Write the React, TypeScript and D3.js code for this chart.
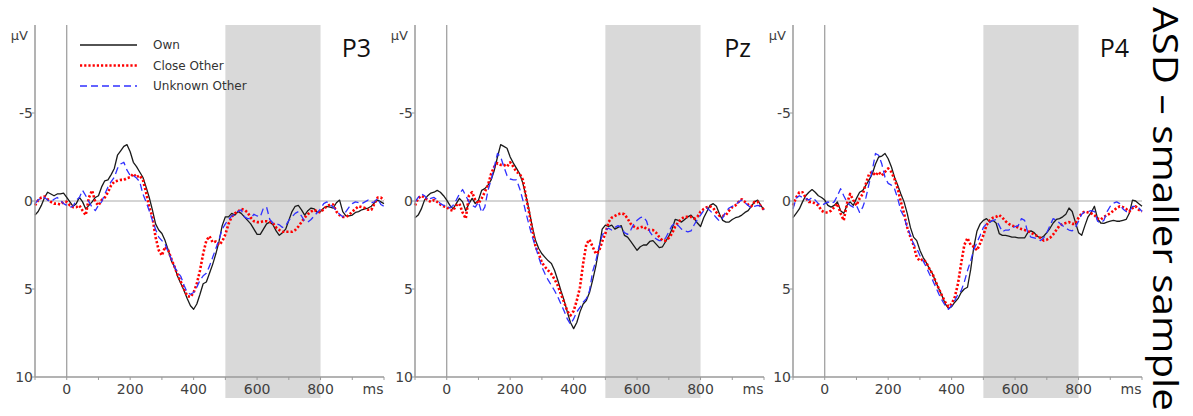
import * as d3 from "d3";

// sample grid, ms (one value every 10 ms from -100 to 1000)
const TIMES = d3.range(-100, 1001, 10);

const P3_OWN = [
  0.8, 0.6, 0.25, -0.2, -0.5, -0.4, -0.3, -0.4, -0.4, -0.45,
  -0.2, 0.05, 0.3, 0.15, -0.2, 0.05, 0.45, 0.25, 0.05, -0.2,
  -0.3, -0.8, -1.15, -1.2, -1.5, -1.85, -2.6, -2.85, -3.1, -3.2,
  -2.8, -2.2, -1.95, -1.65, -1.35, -0.8, -0.2, 0.5, 1.3, 1.65,
  1.85, 2.25, 2.8, 3.4, 3.75, 4.3, 4.7, 5.1, 5.55, 5.95,
  6.15, 5.85, 5.3, 4.7, 4.6,
  4.1, 3.6, 3.0, 2.3, 1.4, 0.9, 0.9, 0.7, 0.8, 0.6,
  0.7, 0.9, 1.1, 1.3, 1.6, 1.9, 1.9, 1.6, 1.3, 1.2,
  1.35, 1.7, 1.95, 1.8, 1.6, 1.1, 0.6, 0.3, 0.25, 0.5,
  0.8, 0.55, 0.4, 0.45, 0.65, 0.6, 0.4, 0.3, 0.35, 0.4,
  0.1, -0.05, 0.6, 0.85, 0.85, 0.8, 0.65, 0.6, 0.5, 0.45,
  0.4, 0.3, 0.1, -0.05, 0.05, 0.15,
];
const P3_CLOSE = [
  0.25, -0.05, -0.2, -0.25, -0.1, 0.05, 0.15, 0.15, 0.2, 0.05,
  0.05, 0.25, 0.35, 0.35, 0.25, 0.55, 0.8, -0.2, -0.6, 0.05,
  0.25, -0.05, -0.2, -0.5, -0.9, -1.1, -1.15, -1.2, -1.2, -1.3,
  -1.35, -1.55, -1.35, -1.45, -1.2, -0.5, 0.35, 0.9, 2.05, 2.8,
  3.1, 2.6, 2.8, 3.3, 3.75, 4.2, 4.6, 5.0, 5.4, 5.45,
  5.2, 4.7, 3.95, 3.0, 2.25, 2.0,
  2.35, 2.3, 2.5, 2.3, 1.9, 1.3, 0.9, 0.7, 0.6, 0.45,
  0.5, 0.65, 0.95, 1.15, 1.2, 1.2, 1.15, 1.15, 1.2, 1.25,
  1.5, 1.65, 1.75, 1.75, 1.75, 1.75, 1.65, 1.45, 1.2, 0.95,
  0.75, 0.6, 0.5, 0.6, 0.65, 0.45, 0.3, 0.2, 0.2, 0.6,
  0.8, 0.9, 0.9, 0.8, 0.6, 0.45, 0.3, 0.35, 0.4, 0.5,
  0.5, 0.15, -0.2, -0.2, -0.05,
];
const P3_UNKNOWN = [
  0.15, -0.05, -0.2, -0.2, -0.05, 0.05, -0.1, -0.2, -0.05, 0.15,
  0.25, 0.35, 0.3, -0.05, -0.2, -0.6, -0.3, 0.05, 0.35, 0.55,
  0.25, 0.05, -0.4, -0.8, -1.1, -1.35, -1.85, -2.1, -2.2, -1.75,
  -1.45, -1.45, -1.3, -1.1, -0.4, 0.05, 0.55, 1.1, 1.6, 2.05,
  2.25, 2.45, 2.9, 3.3, 3.75, 4.05, 4.3, 4.8, 5.2, 5.3,
  5.2, 4.9, 4.5, 4.25, 4.1, 3.7,
  3.2, 2.7, 2.2, 1.6, 1.3, 1.05, 0.85, 0.75, 0.6, 0.5,
  0.9, 1.0, 1.0, 0.75, 0.85, 0.9, 0.4, 0.35, 1.05, 1.25,
  1.3, 1.35, 1.5, 1.4, 1.1, 0.9, 0.7, 0.6, 0.85, 1.15,
  1.2, 1.05, 0.85, 0.65, 0.45, 0.15, 0.05, 0.2, 0.35, 0.55,
  0.75, 0.9, 0.6, 0.35, 0.15, 0.05, 0.1, 0.15, 0.05, -0.05,
  0.1, 0.05, -0.15, 0.2, 0.3,
];

const PZ_OWN = [
  0.95, 0.8, 0.45, -0.05, -0.3, -0.45, -0.5, -0.6, -0.5, -0.3,
  -0.05, 0.25, 0.45, 0.15, -0.15, 0.05, 0.55, 0.15, -0.15, 0.15,
  -0.05, -0.6, -0.7, -0.9, -1.2, -1.75, -2.5, -3.2, -3.1, -3.0,
  -2.5, -2.15, -1.85, -1.55, -1.0, -0.25, 0.55, 1.5, 2.25, 2.7,
  3.0, 3.2, 3.4, 3.55, 3.95, 4.5, 5.1, 5.65, 6.3, 6.9,
  7.25, 6.9, 6.3, 5.85, 5.65, 5.2,
  4.5, 3.7, 2.7, 1.6, 1.37, 1.45, 1.37, 1.6, 1.5, 1.4,
  1.95, 2.05, 2.3, 2.55, 2.8, 2.6, 2.5, 2.5, 2.3, 2.25,
  2.45, 2.65, 2.6, 2.3, 2.0, 1.6, 1.05, 1.1, 1.2, 1.05,
  0.9, 0.8, 1.0, 1.25, 1.45, 0.95, 0.6, 0.25, 0.15, 0.3,
  0.75, 1.1, 1.2, 1.2, 1.05, 0.95, 0.9, 0.8, 0.65, 0.55,
  0.3, 0.05, -0.05, 0.25, 0.5,
];
const PZ_CLOSE = [
  0.25, -0.15, -0.3, -0.2, -0.05, 0.05, -0.05, 0.05, 0.2, 0.3,
  0.35, 0.5, 0.55, 0.25, 0.15, 0.65, 1.0, -0.3, -0.5, -0.05,
  0.15, -0.15, -0.5, -0.9, -1.55, -1.95, -2.15, -2.05, -2.05, -1.95,
  -2.2, -1.95, -1.65, -1.55, -1.2, -0.25, 0.7, 1.65, 2.6, 3.0,
  3.5, 3.75, 3.95, 4.15, 4.45, 4.8, 5.3, 5.75, 6.25, 6.5,
  6.25, 5.65, 4.9, 3.55, 2.45, 2.2,
  2.6, 3.0, 2.85, 2.3, 1.85, 1.2, 0.95, 0.85, 0.75, 0.7,
  0.75, 1.0, 1.3, 1.45, 1.55, 1.5, 1.45, 1.6, 1.65, 1.65,
  1.8, 2.05, 2.25, 2.25, 2.1, 1.85, 1.45, 1.2, 1.0, 0.9,
  0.9, 0.9, 1.0, 0.9, 0.6, 0.45, 0.35, 0.3, 0.4, 0.65,
  0.85, 0.85, 0.8, 0.55, 0.35, 0.25, 0.05, -0.1, 0.05, 0.2,
  0.3, 0.05, 0.05, 0.3, 0.5,
];
const PZ_UNKNOWN = [
  0.05, -0.2, -0.4, -0.3, -0.05, -0.15, -0.2, -0.05, 0.15, 0.25,
  0.25, 0.4, 0.25, -0.05, -0.4, -0.65, -0.3, 0.05, 0.25, 0.35,
  0.05, 0.65, 0.35, -0.6, -1.2, -1.95, -2.7, -2.5, -1.95, -1.45,
  -1.25, -1.2, -1.2, -0.7, -0.05, 0.7, 1.4, 2.05, 2.6, 3.2,
  3.75, 4.15, 4.5, 4.8, 5.1, 5.45, 5.85, 6.25, 6.7, 7.0,
  6.7, 6.3, 6.05, 5.75, 5.55, 5.1,
  4.0, 3.4, 2.6, 1.95, 1.65, 1.55, 1.65, 1.5, 1.4, 1.5,
  1.8, 1.9, 1.65, 1.3, 1.1, 0.95, 0.9, 1.15, 1.75, 2.0,
  2.15, 2.25, 2.25, 2.1, 1.75, 1.4, 1.25, 1.4, 1.6, 1.7,
  1.75, 1.7, 1.35, 1.05, 0.8, 0.55, 0.4, 0.55, 0.75, 0.95,
  1.15, 0.95, 0.6, 0.4, 0.3, 0.23, 0.05, -0.05, 0.1, 0.25,
  0.4, 0.3, 0.25, 0.3, 0.5,
];

const P4_OWN = [
  0.95, 0.7, 0.45, 0.05, -0.3, -0.5, -0.65, -0.5, -0.3, -0.2,
  -0.05, 0.25, 0.35, 0.25, 0.05, 0.55, 0.7, 0.25, 0.05, 0.25,
  -0.15, -0.5, -0.6, -0.9, -1.2, -1.55, -2.1, -2.5, -2.55, -2.7,
  -2.4, -1.95, -1.35, -0.9, -0.4, 0.05, 0.7, 1.5, 2.05, 2.25,
  2.8, 3.2, 3.5, 3.85, 4.15, 4.6, 5.0, 5.4, 5.85, 6.1,
  6.0, 5.75, 5.55, 5.2, 5.0, 4.9, 3.9,
  2.6, 1.7, 1.3, 1.1, 1.0, 1.2, 1.1, 1.25, 1.85, 1.95,
  1.95, 2.0, 2.05, 2.05, 2.1, 2.1, 2.1, 1.8, 1.7, 1.8,
  2.0, 2.1, 2.0, 1.8, 1.55, 1.25, 1.05, 1.0, 0.9, 0.75,
  0.4, 0.6, 1.2, 1.8, 1.95, 1.4, 0.9, 0.65, 0.3, 1.0,
  1.25, 1.27, 1.2, 1.15, 1.1, 1.15, 1.15, 1.1, 1.05, 0.7,
  -0.05, 0.0, 0.15, 0.3,
];
const P4_CLOSE = [
  0.25, -0.2, -0.5, -0.5, -0.2, 0.05, 0.05, 0.15, 0.25, 0.55,
  0.65, 0.65, 0.55, 0.35, 0.15, 0.7, 1.1, 0.15, -0.4, -0.05,
  0.25, -0.15, -0.4, -1.0, -1.55, -1.65, -1.45, -1.65, -1.45, -1.65,
  -1.85, -1.65, -1.25, -0.7, 0.05, 0.7, 1.5, 2.05, 2.5, 3.2,
  3.4, 3.3, 3.5, 3.85, 4.15, 4.6, 5.0, 5.4, 5.75, 6.0,
  5.85, 5.45, 4.7, 3.55, 2.5, 2.1, 2.5,
  2.6, 2.8, 2.4, 1.95, 1.37, 1.1, 0.95, 0.9, 0.8, 0.95,
  1.15, 1.3, 1.4, 1.45, 1.5, 1.6, 1.65, 1.7, 1.8, 1.9,
  2.0, 2.1, 2.25, 2.2, 2.1, 1.9, 1.65, 1.4, 1.3, 1.25,
  1.2, 1.3, 1.3, 0.95, 0.7, 0.6, 0.65, 0.7, 0.8, 1.0,
  1.05, 0.9, 0.8, 0.7, 0.55, 0.4, 0.3, 0.35, 0.45, 0.6,
  0.4, 0.3, 0.5, 0.6,
];
const P4_UNKNOWN = [
  0.45, -0.15, -0.3, -0.2, -0.15, -0.05, -0.2, -0.05, 0.15, 0.25,
  0.15, 0.05, 0.15, 0.05, -0.3, -0.7, -0.3, 0.05, 0.25, 0.35,
  0.25, 0.65, 0.35, -0.2, -1.0, -1.75, -2.7, -2.6, -2.1, -1.35,
  -1.0, -0.9, -0.7, -0.15, 0.55, 0.9, 1.5, 1.95, 2.45, 2.7,
  3.1, 3.4, 3.75, 4.15, 4.5, 4.9, 5.3, 5.65, 5.95, 6.15,
  5.95, 5.65, 5.3, 5.1, 4.6, 3.95, 3.4,
  2.75, 2.35, 1.95, 1.5, 1.3, 1.2, 1.1, 1.05, 1.4, 1.75,
  1.65, 1.65, 1.55, 1.45, 1.4, 1.0, 1.1, 1.8, 2.05, 2.1,
  2.15, 2.25, 2.1, 1.8, 1.4, 1.0, 1.1, 1.25, 1.4, 1.55,
  1.65, 1.7, 1.5, 1.15, 0.75, 0.6, 0.6, 0.55, 0.6, 1.15,
  1.25, 1.1, 0.6, 0.3, 0.13, 0.05, 0.15, 0.45, 0.6, 0.6,
  0.3, 0.3, 0.4, 0.6,
];

const PANELS = [
  { title: "P3", own: P3_OWN, close: P3_CLOSE, unknown: P3_UNKNOWN },
  { title: "Pz", own: PZ_OWN, close: PZ_CLOSE, unknown: PZ_UNKNOWN },
  { title: "P4", own: P4_OWN, close: P4_CLOSE, unknown: P4_UNKNOWN },
];
const PANEL_OFFSETS = [0, 380, 758];

const CONDITIONS = ["Own", "Close Other", "Unknown Other"];
const STYLES = {
  Own: { stroke: "#1a1a1a", width: 1.3, dash: null },
  "Close Other": { stroke: "#ff0000", width: 2.6, dash: "2.2 2" },
  "Unknown Other": { stroke: "#3030ff", width: 1.3, dash: "7 4" },
};

const X_LABELS = [0, 200, 400, 600, 800];
const X_MINOR = d3.range(-100, 1001, 100);
const Y_LABELS = [-5, 0, 5, 10];
const WINDOW = [500, 800];
const SIDE_TITLE = "ASD – smaller sample";

const TICK_FONT = "'DejaVu Sans', sans-serif";
const TICK_COL = "#404040";
const AXIS_COL = "#9a9a9a";

function Panel({ p, ox }) {
  const sx = d3.scaleLinear().domain([-100, 1000]).range([35 + ox, 384 + ox]);
  const sy = d3.scaleLinear().domain([-10, 10]).range([25, 377]);
  const line = d3.line<number>().x((_, i) => sx(TIMES[i])).y(v => sy(v));
  const series = { Own: p.own, "Close Other": p.close, "Unknown Other": p.unknown };
  const x0 = sx(-100), x1 = sx(1000), yb = sy(10), yt = sy(-10);
  return (
    <g>
      <rect x={sx(WINDOW[0])} y={yt} width={sx(WINDOW[1]) - sx(WINDOW[0])} height={398 - yt} fill="#d9d9d9" />
      <line x1={x0} x2={x1} y1={sy(0)} y2={sy(0)} stroke="#aaaaaa" strokeWidth="1" />
      <line x1={sx(0)} x2={sx(0)} y1={yt} y2={yb} stroke={AXIS_COL} strokeWidth="1.2" />
      {CONDITIONS.map(c => (
        <path key={c} d={line(series[c])} fill="none" stroke={STYLES[c].stroke} strokeWidth={STYLES[c].width}
          strokeDasharray={STYLES[c].dash || undefined} strokeLinejoin="round" />
      ))}
      <line x1={x0} x2={x0} y1={yt} y2={yb} stroke={AXIS_COL} strokeWidth="1.5" />
      <line x1={x0} x2={x1} y1={yb} y2={yb} stroke={AXIS_COL} strokeWidth="1.5" />
      {X_MINOR.map(t => <line key={t} x1={sx(t)} x2={sx(t)} y1={yb} y2={yb + 3} stroke={AXIS_COL} />)}
      {X_LABELS.map(t => <text key={t} x={sx(t)} y={yb + 17} textAnchor="middle" fontSize="14" fontFamily={TICK_FONT} fill={TICK_COL}>{t}</text>)}
      <text x={sx(1000) - 11} y={yb + 17} textAnchor="middle" fontSize="14" fontFamily={TICK_FONT} fill={TICK_COL}>ms</text>
      {Y_LABELS.map(v => <line key={v} x1={x0 - 3} x2={x0} y1={sy(v)} y2={sy(v)} stroke={AXIS_COL} />)}
      {Y_LABELS.map(v => <text key={v} x={x0 - 2} y={sy(v) + 5} textAnchor="end" fontSize="14" fontFamily={TICK_FONT} fill={TICK_COL}>{v}</text>)}
      <text x={x0 - 7} y={yt + 15} textAnchor="end" fontSize="13" fontFamily={TICK_FONT} fill={TICK_COL}>μV</text>
      <text x={x1 - 13} y={yt + 32} textAnchor="end" fontSize="25" fontFamily="'Open Sans', sans-serif" fill="#111">{p.title}</text>
    </g>
  );
}

function Legend() {
  return (
    <g>
      {CONDITIONS.map((c, i) => (
        <g key={c} transform={`translate(80 ${45 + i * 20.5})`}>
          <line x1="0" x2="57" y1="0" y2="0" stroke={STYLES[c].stroke} strokeWidth={STYLES[c].width}
            strokeDasharray={STYLES[c].dash || undefined} />
          <text x="73" y="4" fontSize="12" fontFamily={TICK_FONT} fill="#333">{c}</text>
        </g>
      ))}
    </g>
  );
}

export default function App() {
  return (
    <svg width={1193} height={416} viewBox="0 0 1193 416"
      style={{ position: "absolute", left: 0, top: 0, background: "#fff", display: "block" }}>
      <rect width="1193" height="416" fill="#fff" />
      {PANELS.map((p, i) => <Panel key={p.title} p={p} ox={PANEL_OFFSETS[i]} />)}
      <Legend />
      <text transform="translate(1153 7) rotate(90)" fontSize="34" fontFamily="'Open Sans', sans-serif" fill="#000"
        textLength="404" lengthAdjust="spacingAndGlyphs">{SIDE_TITLE}</text>
    </svg>
  );
}
